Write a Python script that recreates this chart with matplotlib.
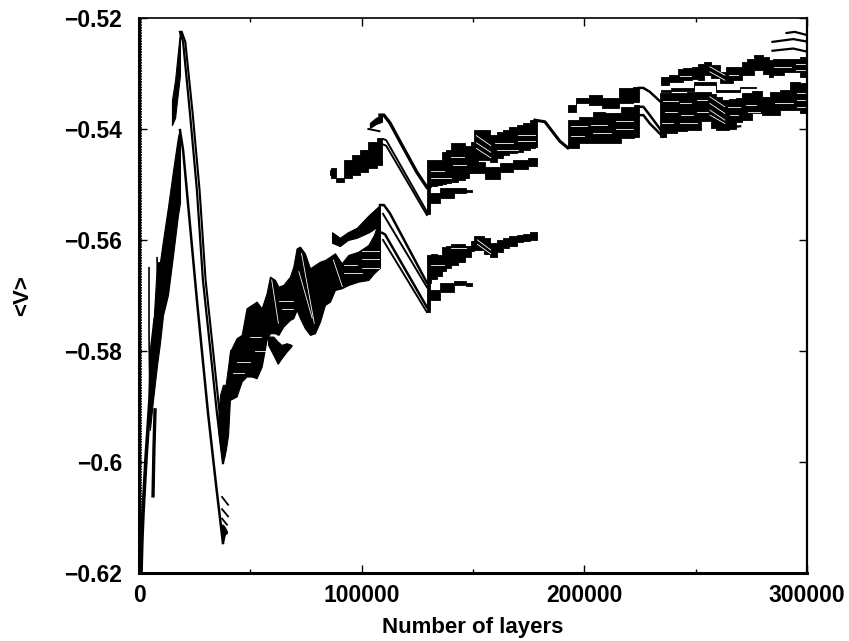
import numpy as np
import matplotlib
matplotlib.use('Agg')
import matplotlib.pyplot as plt

plt.rcParams['font.family'] = ['Liberation Sans', 'DejaVu Sans']
plt.rcParams['font.weight'] = 'bold'

xticks = [0, 100000, 200000, 300000]
xminor = [50000, 150000, 250000]
yticks = [-0.62, -0.6, -0.58, -0.56, -0.54, -0.52]
yticklabels = ['\u22120.62', '\u22120.6', '\u22120.58', '\u22120.56', '\u22120.54', '\u22120.52']

# thin curves, x in thousands of layers
left_x = [0.9, 1.3, 1.8, 3.1, 4.0, 4.9, 5.8, 7.2]
left_y = [-.62, -.6141, -.6092, -.5996, -.5942, -.5888, -.5793, -.5744]
spike1_x = [4.5, 4.5, 4.9]
spike1_y = [-.5650, -.5771, -.5888]
spike2_x = [8.1, 8.6]
spike2_y = [-.5632, -.5700]
spike3_x = [7.2, 6.7, 6.3]
spike3_y = [-.5906, -.5978, -.6061]

drop1_x = [18.4, 19.8, 22.9, 26.0, 31.0, 34.6, 37.7]
drop1_y = [-.5402, -.5438, -.5573, -.5708, -.5912, -.6041, -.6146]
drop2_x = [18.4, 19.8, 22.9, 26.0, 28.7, 31.9, 35.0, 37.7]
drop2_y = [-.5225, -.5243, -.5372, -.5510, -.5672, -.5793, -.5912, -.6002]
drop3_x = [19.2, 20.8, 24.1, 27.2, 29.9, 33.1, 36.2, 38.3]
drop3_y = [-.5225, -.5243, -.5372, -.5510, -.5672, -.5793, -.5912, -.5990]

rid1_x = [108.2, 110.0, 112.7, 118.5, 124.8, 129.3]
rid1_y = [-.5375, -.5375, -.5389, -.5432, -.5478, -.5505]
rid2_x = [109.6, 111.0, 129.3]
rid2_y = [-.5418, -.5420, -.5549]
rid3_x = [109.6, 111.0, 129.3]
rid3_y = [-.5428, -.5430, -.5555]
rid4_x = [108.2, 110.0, 112.7, 129.3]
rid4_y = [-.5537, -.5537, -.5552, -.5677]
rid5_x = [109.6, 129.3]
rid5_y = [-.5553, -.5685]
rid6_x = [109.1, 110.5, 129.3]
rid6_y = [-.5587, -.5590, -.5721]
rid7_x = [109.6, 129.3]
rid7_y = [-.5600, -.5730]
rid8_x = [177.8, 182.3, 189.0, 192.6]
rid8_y = [-.5384, -.5387, -.5422, -.5434]
rid9_x = [224.5, 226.5, 229.4, 234.8]
rid9_y = [-.5326, -.5326, -.5333, -.5353]
rid10_x = [224.5, 226.5, 229.4, 235.3]
rid10_y = [-.5360, -.5360, -.5375, -.5407]
rid11_x = [224.5, 226.5, 229.4, 235.3]
rid11_y = [-.5375, -.5375, -.5390, -.5414]

# dense regions of dashes: x, upper edge, lower edge
b_rise_x = [4.9, 6.3, 8.1, 9.4, 10.8, 13.0, 15.3, 17.5, 18.4]
b_rise_t = [-.5897, -.5762, -.5640, -.5640, -.5600, -.5541, -.5474, -.5414, -.5400]
b_rise_b = [-.5942, -.5888, -.5825, -.5786, -.5735, -.5699, -.5627, -.5555, -.5533]
b_top_x = [14.8, 16.2, 17.1, 18.4]
b_top_t = [-.5348, -.5312, -.5276, -.5225]
b_top_b = [-.5393, -.5380, -.5348, -.5303]
b_dip_x = [35.5, 36.4, 37.7, 39.0, 40.0, 40.9]
b_dip_t = [-.5924, -.5879, -.5861, -.5861, -.5867, -.5798]
b_dip_b = [-.5939, -.5969, -.6002, -.5978, -.5951, -.5883]
b_tip_x = [37.0, 37.7, 38.6, 39.5]
b_tip_t = [-.6113, -.6113, -.6118, -.6125]
b_tip_b = [-.6125, -.6146, -.6130, -.6128]

b_main_x = [38.6, 40.9, 43.8, 46.1, 48.3, 50.6, 52.8, 55.1, 57.3, 58.8, 61.1, 62.6, 64.8, 67.8, 69.3, 70.8, 72.3, 74.5, 76.8, 79.0, 81.3, 83.5, 85.8, 88.0, 91.0, 94.0, 98.5, 103.0, 105.5, 108.2]
b_main_t = [-.5870, -.5801, -.5777, -.5771, -.5723, -.5717, -.5711, -.5723, -.5696, -.5666, -.5672, -.5684, -.5681, -.5666, -.5648, -.5615, -.5612, -.5624, -.5651, -.5645, -.5639, -.5636, -.5630, -.5624, -.5642, -.5627, -.5621, -.5609, -.5591, -.5560]
b_main_b = [-.5894, -.5888, -.5882, -.5855, -.5846, -.5846, -.5849, -.5828, -.5780, -.5768, -.5768, -.5771, -.5756, -.5744, -.5741, -.5726, -.5741, -.5759, -.5771, -.5768, -.5747, -.5717, -.5711, -.5690, -.5687, -.5681, -.5675, -.5672, -.5660, -.5650]
b_slv_x = [58.0, 60.3, 62.3, 64.0, 66.3, 68.5]
b_slv_t = [-.5774, -.5774, -.5783, -.5789, -.5786, -.5789]
b_slv_b = [-.5789, -.5807, -.5823, -.5813, -.5801, -.5791]
b_thin_x = [86.7, 90.2, 93.8, 97.8, 103.3, 108.2]
b_thin_t = [-.5586, -.5596, -.5586, -.5578, -.5555, -.5537]
b_thin_b = [-.5605, -.5611, -.5600, -.5596, -.5586, -.5573]
b_up_x = [85.8, 87.1, 90.2, 93.8, 97.9, 100.6, 105.1, 109.1]
b_up_t = [-.5474, -.5470, -.5488, -.5456, -.5447, -.5438, -.5423, -.5416]
b_up_b = [-.5483, -.5488, -.5495, -.5488, -.5483, -.5477, -.5470, -.5465]
b_cap_x = [103.7, 106.4, 109.1]
b_cap_t = [-.5389, -.5380, -.5375]
b_cap_b = [-.5398, -.5391, -.5387]

b_a_x = [129.2, 132.9, 135.2, 136.7, 138.9, 141.2, 144.9, 147.9, 150.2, 150.9, 153.9, 156.1, 159.1, 162.1, 164.4, 168.1, 171.1, 174.1, 177.1, 178.6]
b_a_t = [-.5456, -.5455, -.5456, -.5441, -.5438, -.5426, -.5426, -.5431, -.5423, -.5402, -.5401, -.5402, -.5411, -.5405, -.5402, -.5397, -.5393, -.5389, -.5384, -.5385]
b_a_b = [-.5504, -.5503, -.5501, -.5499, -.5497, -.5495, -.5491, -.5480, -.5465, -.5462, -.5456, -.5456, -.5459, -.5453, -.5447, -.5444, -.5441, -.5438, -.5435, -.5433]
b_as_x = [145.0, 151.8, 158.9, 165.2, 171.0, 178.7]
b_as_t = [-.5474, -.5459, -.5468, -.5461, -.5455, -.5452]
b_as_b = [-.5488, -.5479, -.5490, -.5477, -.5472, -.5467]
b_af_x = [129.3, 132.0, 138.7, 144.1, 149.5]
b_af_t = [-.5505, -.5515, -.5506, -.5506, -.5510]
b_af_b = [-.5553, -.5533, -.5524, -.5515, -.5513]
b_l_x = b_a_x
b_l_t = [-.5627, -.5626, -.5627, -.5613, -.5610, -.5607, -.5607, -.5610, -.5602, -.5593, -.5593, -.5596, -.5606, -.5600, -.5596, -.5592, -.5591, -.5589, -.5586, -.5586]
b_l_b = [-.5677, -.5671, -.5664, -.5655, -.5650, -.5645, -.5640, -.5630, -.5620, -.5618, -.5618, -.5625, -.5631, -.5622, -.5614, -.5610, -.5604, -.5602, -.5600, -.5600]
b_lf_x = [129.3, 132.0, 138.7, 144.1, 149.5]
b_lf_t = [-.5677, -.5690, -.5677, -.5674, -.5677]
b_lf_b = [-.5730, -.5708, -.5694, -.5681, -.5683]

b_r1_x = [192.6, 202.5, 205.6, 212.8, 220.5, 224.5]
b_r1_t = [-.5384, -.5378, -.5369, -.5371, -.5360, -.5357]
b_r1_b = [-.5434, -.5425, -.5425, -.5425, -.5416, -.5414]
b_r2_x = [192.6, 200.2, 203.8, 211.9, 219.6, 224.5]
b_r2_t = [-.5357, -.5344, -.5339, -.5344, -.5326, -.5324]
b_r2_b = [-.5369, -.5353, -.5357, -.5362, -.5353, -.5351]
b_c_x = [234.6, 241.4, 242.9, 245.9, 250.4, 251.9, 255.6, 258.6, 263.1, 263.8, 269.8, 272.1, 273.6, 278.8, 281.8, 284.0, 285.5, 293.8, 299.9]
b_c_t = [-.5306, -.5303, -.5291, -.5290, -.5288, -.5282, -.5280, -.5284, -.5297, -.5288, -.5288, -.5279, -.5273, -.5267, -.5270, -.5276, -.5274, -.5273, -.5270]
b_c_b = [-.5320, -.5315, -.5315, -.5312, -.5310, -.5312, -.5303, -.5309, -.5318, -.5318, -.5312, -.5303, -.5302, -.5294, -.5300, -.5306, -.5303, -.5297, -.5306]
b_m_x = [234.6, 242.9, 255.6, 263.1, 277.0]
b_m_t = [-.5330, -.5327, -.5316, -.5330, -.5324]
b_m_b = [-.5334, -.5331, -.5321, -.5334, -.5327]
b_d_x = [233.9, 239.9, 242.9, 248.9, 255.6, 258.6, 260.1, 263.8, 266.1, 269.8, 272.1, 278.1, 281.8, 284.8, 290.8, 293.8, 299.9]
b_d_t = [-.5336, -.5336, -.5336, -.5333, -.5333, -.5337, -.5342, -.5348, -.5346, -.5345, -.5336, -.5332, -.5342, -.5333, -.5330, -.5315, -.5318]
b_d_b = [-.5414, -.5408, -.5404, -.5402, -.5386, -.5399, -.5402, -.5402, -.5400, -.5387, -.5384, -.5372, -.5374, -.5375, -.5366, -.5366, -.5372]

# short dashes standing clear of the bands
d1_x = [290.8, 294.5, 299.3]
d1_y = [-.5227, -.5225, -.5230]
d2_x = [284.5, 293.8, 299.3]
d2_y = [-.5243, -.5238, -.5242]
d3_x = [284.5, 293.8, 299.3]
d3_y = [-.5259, -.5255, -.5260]
d4_x = [103.0, 108.0]
d4_y = [-.5400, -.5404]
d5_x = [262.5, 270.0]
d5_y = [-.5398, -.5395]
d6_x = [37.3, 40.0]
d6_y = [-.6063, -.6077]
d7_x = [37.3, 40.0]
d7_y = [-.6085, -.6098]
d8_x = [37.3, 39.5]
d8_y = [-.6102, -.6113]

# white gaps between dashes: x start, x end, y start, y end
gap_x0 = [235.4, 236.1, 235.1, 242.9, 243.6, 242.9, 250.4, 250.4, 264.6, 265.3, 272.8, 273.6, 285.5, 295.3, 295.3, 295.3,
          256.4, 256.4, 256.4, 256.4, 256.4, 256.4, 243.0, 265.0, 285.0, 295.0, 295.0,
          194.0, 194.0, 203.0, 204.0, 214.0, 214.0,
          131.0, 131.0, 140.0, 141.0, 151.5, 151.5, 151.5, 160.0, 161.0, 170.0, 170.0,
          131.0, 140.0, 152.0, 152.0,
          42.0, 44.0, 50.0, 52.0, 63.0, 64.0, 92.0, 92.0, 100.0, 100.0, 100.0,
          73.0, 71.8, 59.6, 87.3]
gap_x1 = [242.1, 241.4, 239.9, 248.1, 248.9, 250.4, 254.9, 255.6, 269.8, 269.1, 277.3, 278.8, 293.8, 299.3, 299.3, 299.3,
          263.1, 263.1, 263.1, 263.1, 263.1, 263.1, 248.0, 269.0, 293.0, 299.3, 299.3,
          201.0, 200.0, 210.0, 212.0, 222.0, 222.0,
          137.0, 140.0, 146.0, 147.0, 158.0, 158.0, 158.0, 168.0, 170.0, 178.0, 178.0,
          137.0, 147.0, 158.0, 158.0,
          47.0, 50.0, 55.0, 57.0, 69.0, 69.0, 98.0, 100.0, 108.0, 108.0, 108.0,
          78.7, 77.8, 62.6, 91.3]
gap_y0 = [-.5350, -.5370, -.5390, -.5354, -.5374, -.5390, -.5348, -.5369, -.5360, -.5375, -.5357, -.5370, -.5354, -.5336, -.5348, -.5360,
          -.5342, -.5354, -.5366, -.5375, -.5288, -.5297, -.5305, -.5303, -.5288, -.5282, -.5294,
          -.5395, -.5412, -.5392, -.5408, -.5385, -.5400,
          -.5475, -.5488, -.5450, -.5465, -.5412, -.5425, -.5435, -.5425, -.5437, -.5410, -.5422,
          -.5645, -.5615, -.5600, -.5608,
          -.5840, -.5820, -.5775, -.5800, -.5710, -.5725, -.5645, -.5660, -.5635, -.5650, -.5620,
          -.5624, -.5657, -.5672, -.5636]
gap_y1 = [-.5350, -.5370, -.5390, -.5354, -.5374, -.5390, -.5348, -.5369, -.5360, -.5375, -.5357, -.5370, -.5354, -.5336, -.5348, -.5360,
          -.5360, -.5372, -.5384, -.5390, -.5303, -.5312, -.5305, -.5303, -.5288, -.5282, -.5294,
          -.5395, -.5412, -.5392, -.5408, -.5385, -.5400,
          -.5475, -.5488, -.5450, -.5465, -.5430, -.5442, -.5452, -.5425, -.5437, -.5410, -.5422,
          -.5645, -.5615, -.5618, -.5625,
          -.5840, -.5820, -.5775, -.5800, -.5710, -.5725, -.5645, -.5660, -.5635, -.5650, -.5620,
          -.5750, -.5741, -.5750, -.5684]

fig = plt.figure(figsize=(8.49, 6.41), dpi=100)
ax = fig.add_axes([139/849, 1-573/641, (807-139)/849, (573-18)/641])

layers = lambda v: np.array(v)*1000

# column of points hugging the axis
ax.plot([900, 900], [-.62, -.52], color='black', lw=1.3, ls=(0, (1, 0.5)))

smooth = [(b_rise_x, b_rise_t, b_rise_b), (b_top_x, b_top_t, b_top_b), (b_dip_x, b_dip_t, b_dip_b),
          (b_tip_x, b_tip_t, b_tip_b), (b_thin_x, b_thin_t, b_thin_b), (b_cap_x, b_cap_t, b_cap_b),
          (b_main_x, b_main_t, b_main_b), (b_slv_x, b_slv_t, b_slv_b)]
for bx, bt, bb in smooth:
    ax.fill_between(layers(bx), bt, bb, color='black', lw=0.8)

stepped = [(b_up_x, b_up_t, b_up_b),
           (b_a_x, b_a_t, b_a_b), (b_as_x, b_as_t, b_as_b), (b_af_x, b_af_t, b_af_b),
           (b_l_x, b_l_t, b_l_b), (b_lf_x, b_lf_t, b_lf_b), (b_r1_x, b_r1_t, b_r1_b),
           (b_r2_x, b_r2_t, b_r2_b), (b_c_x, b_c_t, b_c_b), (b_m_x, b_m_t, b_m_b), (b_d_x, b_d_t, b_d_b)]
for bx, bt, bb in stepped:
    ax.fill_between(layers(bx), bt, bb, color='black', lw=0.6, step='mid')

for x0, x1, y0, y1 in zip(gap_x0, gap_x1, gap_y0, gap_y1):
    ax.plot(layers([x0, x1]), [y0, y1], color='white', lw=0.6)

thick = [(left_x, left_y, 2.6), (spike1_x, spike1_y, 1.2), (spike2_x, spike2_y, 1.2), (spike3_x, spike3_y, 2.4),
         (drop1_x, drop1_y, 1.8), (drop2_x, drop2_y, 1.6), (drop3_x, drop3_y, 1.5),
         (rid1_x, rid1_y, 2.4), (rid2_x, rid2_y, 1.4), (rid3_x, rid3_y, 1.4), (rid4_x, rid4_y, 1.8),
         (rid5_x, rid5_y, 1.4), (rid6_x, rid6_y, 1.8), (rid7_x, rid7_y, 1.4), (rid8_x, rid8_y, 2.2),
         (rid9_x, rid9_y, 1.8), (rid10_x, rid10_y, 1.8), (rid11_x, rid11_y, 1.8),
         (d1_x, d1_y, 1.6), (d2_x, d2_y, 1.6), (d3_x, d3_y, 1.6), (d4_x, d4_y, 1.4), (d5_x, d5_y, 1.6),
         (d6_x, d6_y, 1.3), (d7_x, d7_y, 1.3), (d8_x, d8_y, 1.3)]
for lx, ly, w in thick:
    ax.plot(layers(lx), ly, color='black', lw=w)

ax.set_xlim(0, 300000)
ax.set_ylim(-0.62, -0.52)
ax.set_xticks(xticks)
ax.set_xticks(xminor, minor=True)
ax.set_xticklabels([str(v) for v in xticks], fontsize=16.5)
for lab in ax.get_xticklabels():
    lab.set_clip_on(False)
ax.set_yticks(yticks)
ax.set_yticklabels(yticklabels, fontsize=16.5)
ax.tick_params(which='major', direction='in', length=6, width=1.0, top=True, right=True, pad=8)
ax.tick_params(which='minor', direction='in', length=3, width=1.0, top=True)
ax.tick_params(axis='y', pad=12)
ax.spines['left'].set_linewidth(2.2)
ax.spines['bottom'].set_linewidth(2.2)
ax.spines['top'].set_linewidth(1.2)
ax.spines['right'].set_linewidth(1.6)
ax.set_xlabel('Number of layers', fontsize=16, fontweight='bold', va='center')
ax.xaxis.set_label_coords(0.5, -0.098)
ax.set_ylabel('<V>', fontsize=16, fontweight='bold', va='center')
ax.yaxis.set_label_coords(-0.174, 0.5)

fig.savefig('out.png', dpi=100)
